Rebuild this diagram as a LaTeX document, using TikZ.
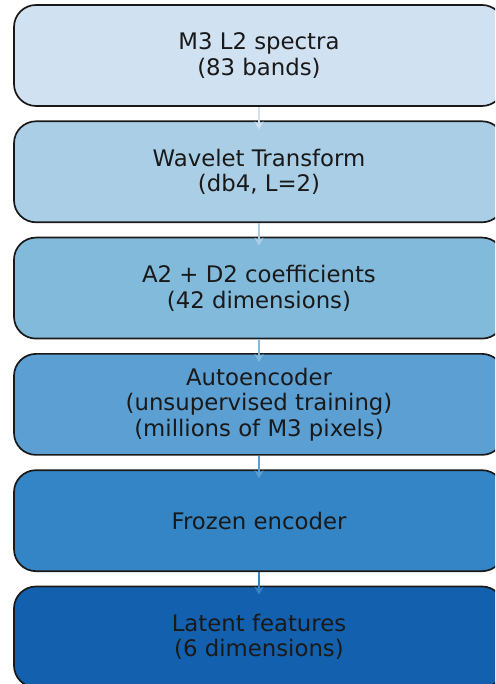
\documentclass[tikz,border=0pt]{standalone}
\usepackage{fontspec}
\setmainfont{DejaVu Sans}
\usetikzlibrary{arrows.meta}
\definecolor{cA}{HTML}{D0E1F2}
\definecolor{cB}{HTML}{A9CEE6}
\definecolor{cC}{HTML}{82BADB}
\definecolor{cD}{HTML}{5B9FD3}
\definecolor{cE}{HTML}{3385C6}
\definecolor{cF}{HTML}{1361AE}
\tikzset{
  stage/.style={draw=black!90, line width=1.7pt, rounded corners=22pt,
    minimum width=490pt, minimum height=101pt, align=center, inner sep=0pt,
    text=black!90, font=\fontsize{22.8pt}{25.5pt}\selectfont},
  flow/.style={line width=1.8pt, -{Stealth[length=8pt,width=9pt]}}
}
\begin{document}
\begin{tikzpicture}[x=1pt,y=1pt]
\useasboundingbox (0,0) rectangle (495,684);
\clip (0,0) rectangle (495,684);
\node[stage, fill=cA] (b1) at (259,628.5) {M3 L2 spectra\\(83 bands)};
\node[stage, fill=cB] (b2) at (259,512.2) {Wavelet Transform\\(db4, L=2)};
\node[stage, fill=cC] (b3) at (259,395.9) {A2 + D2 coefficients\\(42 dimensions)};
\node[stage, fill=cD] (b4) at (259,279.6) {Autoencoder\\(unsupervised training)\\(millions of M3 pixels)};
\node[stage, fill=cE] (b5) at (259,163.3) {Frozen encoder};
\node[stage, fill=cF] (b6) at (259,47) {Latent features\\(6 dimensions)};
\draw[flow, cA] (b1.south) -- ([yshift=-9pt]b2.north);
\draw[flow, cB] (b2.south) -- ([yshift=-9pt]b3.north);
\draw[flow, cC] (b3.south) -- ([yshift=-9pt]b4.north);
\draw[flow, cD] (b4.south) -- ([yshift=-9pt]b5.north);
\draw[flow, cE] (b5.south) -- ([yshift=-9pt]b6.north);
\end{tikzpicture}
\end{document}
